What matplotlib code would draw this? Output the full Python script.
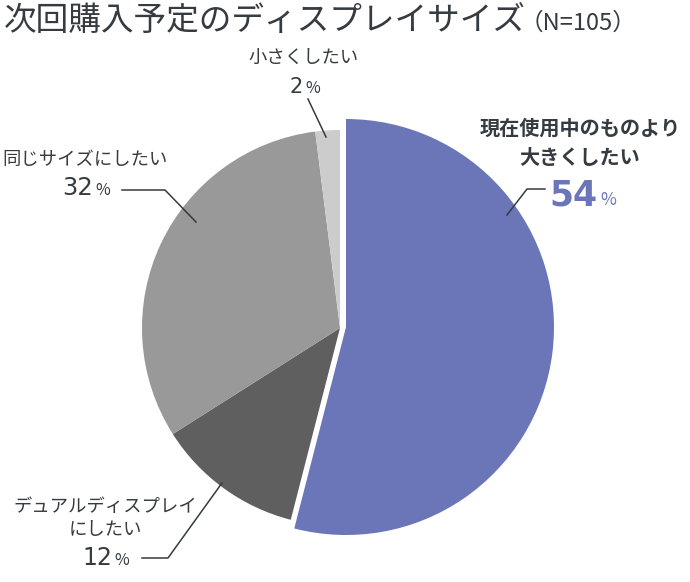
import matplotlib
matplotlib.use("Agg")
import matplotlib.pyplot as plt

plt.rcParams['font.family'] = ['Noto Sans CJK JP', 'DejaVu Sans']

title = "次回購入予定のディスプレイサイズ"
subtitle = "（N=105）"
categories = ["現在使用中のものより\n大きくしたい", "デュアルディスプレイ\nにしたい", "同じサイズにしたい", "小さくしたい"]
values = [54, 12, 32, 2]
colors = ["#6b76b8", "#5f5f5f", "#999999", "#cccccc"]
text_color = "#353b40"
num_font = ['DejaVu Sans']

W, H = 690, 582
fig = plt.figure(figsize=(W / 100, H / 100), dpi=100)
ax = fig.add_axes([0, 0, 1, 1])

def py(y):
    return H - y

cx, cy, r = 340, py(328), 198
wedges, _ = ax.pie(values, colors=colors, startangle=90, counterclock=False,
                   center=(cx, cy), radius=r, frame=True,
                   wedgeprops=dict(linewidth=0))
# highlighted slice: larger and shifted
wedges[0].set_center((cx + 6, cy + 1))
wedges[0].set_radius(208)
ax.set_xlim(0, W)
ax.set_ylim(0, H)
ax.set_aspect('equal')
ax.axis('off')

# title
ax.text(4, py(21), title, fontsize=23.5, color=text_color, ha='left', va='center')
ax.text(520, py(23), subtitle, fontsize=17, color=text_color, ha='left', va='center')

def pct(xsplit, ybase, num, numsize, color, pctsize, weight='normal'):
    ax.text(xsplit, py(ybase), num, fontsize=numsize, color=color, ha='right',
            va='baseline', fontweight=weight, family=num_font)
    ax.text(xsplit + 2, py(ybase), "%", fontsize=pctsize, color=color, ha='left',
            va='baseline')

lw = 1.1
lab = 13.2
# 54% label
ax.text(580, py(128), "現在使用中のものより", fontsize=14.5, fontweight='bold',
        color=text_color, ha='center', va='center')
ax.text(580, py(157), "大きくしたい", fontsize=14.5, fontweight='bold',
        color=text_color, ha='center', va='center')
pct(598, 205, str(values[0]), 25, colors[0], 12.5, weight='bold')
ax.plot([507, 527, 545], [py(215), py(189), py(189)], color=text_color, lw=lw)

# 12% label
ax.text(105, py(507), "デュアルディスプレイ", fontsize=lab, color=text_color,
        ha='center', va='center')
ax.text(105, py(530), "にしたい", fontsize=lab, color=text_color,
        ha='center', va='center')
pct(112, 565, str(values[1]), 17, text_color, 11.5)
ax.plot([142, 168, 222], [py(558), py(558), py(483)], color=text_color, lw=lw)

# 32% label
ax.text(85, py(160), "同じサイズにしたい", fontsize=lab, color=text_color,
        ha='center', va='center')
pct(93, 195, str(values[2]), 17.5, text_color, 11.5)
ax.plot([122, 165, 196], [py(190), py(190), py(222)], color=text_color, lw=lw)

# 2% label
ax.text(304, py(58), "小さくしたい", fontsize=lab, color=text_color,
        ha='center', va='center')
pct(303, 93, str(values[3]), 15, text_color, 11.5)
ax.plot([308, 326], [py(99), py(137)], color=text_color, lw=lw)

fig.savefig("out.png", dpi=100)
